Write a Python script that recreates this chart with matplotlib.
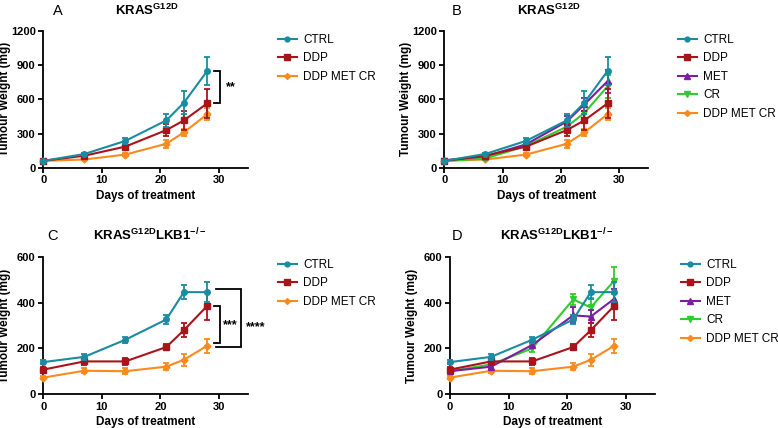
import matplotlib
matplotlib.use("Agg")
import matplotlib.pyplot as plt
from matplotlib.lines import Line2D

plt.rcParams['font.family'] = ['Liberation Sans', 'DejaVu Sans']
plt.rcParams['mathtext.fontset'] = 'custom'
plt.rcParams['mathtext.rm'] = 'Liberation Sans'
plt.rcParams['mathtext.bf'] = 'Liberation Sans:bold'
plt.rcParams['mathtext.it'] = 'Liberation Sans:italic'

days = [0, 7, 14, 21, 24, 28]

# KRAS G12D
k_ctrl = [60, 120, 235, 415, 570, 850]
k_ctrl_err = [8, 12, 25, 60, 100, 125]
k_ddp = [60, 105, 185, 330, 415, 565]
k_ddp_err = [8, 10, 15, 55, 85, 125]
k_met = [65, 100, 205, 405, 555, 760]
k_met_err = [8, 10, 15, 50, 60, 100]
k_cr = [60, 80, 190, 360, 480, 715]
k_cr_err = [8, 10, 15, 40, 50, 100]
k_dmc = [60, 72, 115, 210, 310, 470]
k_dmc_err = [5, 8, 12, 35, 30, 55]

# KRAS G12D LKB1-/-
l_ctrl = [140, 163, 238, 327, 447, 447]
l_ctrl_err = [10, 12, 12, 18, 32, 43]
l_ddp = [107, 143, 143, 206, 280, 387]
l_ddp_err = [12, 15, 15, 12, 30, 62]
l_met = [100, 120, 215, 345, 340, 418]
l_met_err = [10, 10, 12, 35, 30, 45]
l_cr = [100, 130, 200, 415, 380, 498]
l_cr_err = [10, 10, 15, 25, 40, 58]
l_dmc = [72, 102, 100, 120, 150, 212]
l_dmc_err = [8, 10, 12, 15, 25, 30]

labels = ['CTRL', 'DDP', 'MET', 'CR', 'DDP MET CR']
colors = {'CTRL': '#1b8ba1', 'DDP': '#a8141a', 'MET': '#7b1fa2',
          'CR': '#2fcc2f', 'DDP MET CR': '#fb8a1c'}
markers = {'CTRL': 'o', 'DDP': 's', 'MET': '^', 'CR': 'v', 'DDP MET CR': 'D'}
msize = {'CTRL': 4, 'DDP': 4.5, 'MET': 4.5, 'CR': 4.5, 'DDP MET CR': 3.5}

W, H = 778, 428
fig = plt.figure(figsize=(W / 100, H / 100), dpi=100)


def ax_at(x0, x30, top, bottom):
    width = (x30 - x0) * 35 / 30
    return fig.add_axes([x0 / W, 1 - bottom / H, width / W, (bottom - top) / H])


def style(ax, ymax, yticks):
    ax.set_xlim(0, 35)
    ax.set_ylim(0, ymax)
    ax.set_xticks([0, 10, 20, 30])
    ax.set_yticks(yticks)
    for s in ['top', 'right']:
        ax.spines[s].set_visible(False)
    for s in ['left', 'bottom']:
        ax.spines[s].set_linewidth(1.3)
    ax.tick_params(direction='out', length=3.5, width=1.3, labelsize=8, pad=2)
    for lab in ax.get_xticklabels() + ax.get_yticklabels():
        lab.set_fontweight('bold')
    ax.set_xlabel('Days of treatment', fontsize=8.5, fontweight='bold', labelpad=3)
    ax.set_ylabel('Tumour Weight (mg)', fontsize=8.5, fontweight='bold')
    ax.yaxis.set_label_coords(-0.158, 0.5)


def draw(ax, series, order):
    z = 10
    for name in order:
        vals, err = series[name]
        c = colors[name]
        ax.errorbar(days, vals, yerr=err, color=c, ecolor=c, marker=markers[name],
                    markersize=msize[name], linewidth=1.5, elinewidth=1.3,
                    capsize=2.5, capthick=1.3, label=name, zorder=z, clip_on=False)
        z -= 1


def legend(ax, names, x_px, y_px):
    handles = [Line2D([], [], color=colors[n], marker=markers[n], markersize=msize[n] - 0.5,
                      linewidth=1.5) for n in names]
    ax.legend(handles, names, loc='upper left',
              bbox_to_anchor=(x_px / W, 1 - y_px / H), bbox_transform=fig.transFigure,
              frameon=False, fontsize=8.5, handlelength=1.6, handletextpad=0.55,
              labelspacing=0.55, borderpad=0, borderaxespad=0)


def bracket(ax, x_tick, x_v, y1, y2):
    ax.plot([x_tick, x_v, x_v, x_tick], [y1, y1, y2, y2], color='black', lw=1.3,
            clip_on=False, solid_joinstyle='miter')


k_series = {'CTRL': (k_ctrl, k_ctrl_err), 'DDP': (k_ddp, k_ddp_err), 'MET': (k_met, k_met_err),
            'CR': (k_cr, k_cr_err), 'DDP MET CR': (k_dmc, k_dmc_err)}
l_series = {'CTRL': (l_ctrl, l_ctrl_err), 'DDP': (l_ddp, l_ddp_err), 'MET': (l_met, l_met_err),
            'CR': (l_cr, l_cr_err), 'DDP MET CR': (l_dmc, l_dmc_err)}

three = ['CTRL', 'DDP', 'DDP MET CR']

# Panel A
axA = ax_at(43.3, 219, 31, 167.7)
style(axA, 1200, [0, 300, 600, 900, 1200])
draw(axA, k_series, three)
legend(axA, three, 278, 34)
bracket(axA, 29.1, 30.2, 850, 565)
axA.text(31.2, 705, '**', fontsize=9, fontweight='bold', va='center', ha='left')

# Panel B
axB = ax_at(444.3, 619.3, 31, 167.7)
style(axB, 1200, [0, 300, 600, 900, 1200])
draw(axB, k_series, labels)
legend(axB, labels, 678, 34)

# Panel C
axC = ax_at(43.3, 219, 257.3, 394)
style(axC, 600, [0, 200, 400, 600])
draw(axC, l_series, three)
legend(axC, three, 278, 259)
bracket(axC, 29.1, 30.2, 387, 225)
bracket(axC, 29.5, 33.7, 460, 205)
axC.text(30.6, 300, '***', fontsize=9, fontweight='bold', va='center', ha='left')
axC.text(34.6, 295, '****', fontsize=9, fontweight='bold', va='center', ha='left')

# Panel D
axD = ax_at(450, 626, 257.3, 394)
style(axD, 600, [0, 200, 400, 600])
draw(axD, l_series, labels)
legend(axD, labels, 681, 259)


# Titles
def title(letter, lx, text, tx, y):
    fig.text(lx / W, 1 - y / H, letter, fontsize=10.5, ha='center', va='baseline')
    fig.text(tx / W, 1 - y / H, text, fontsize=9.5, ha='left', va='baseline')


title('A', 58, r'$\mathbf{KRAS^{G12D}}$', 115, 15)
title('B', 456.7, r'$\mathbf{KRAS^{G12D}}$', 516.7, 15)
title('C', 53, r'$\mathbf{KRAS^{G12D}LKB1^{-/-}}$', 93, 240)
title('D', 456.7, r'$\mathbf{KRAS^{G12D}LKB1^{-/-}}$', 500, 240)

fig.savefig('out.png', dpi=100)
